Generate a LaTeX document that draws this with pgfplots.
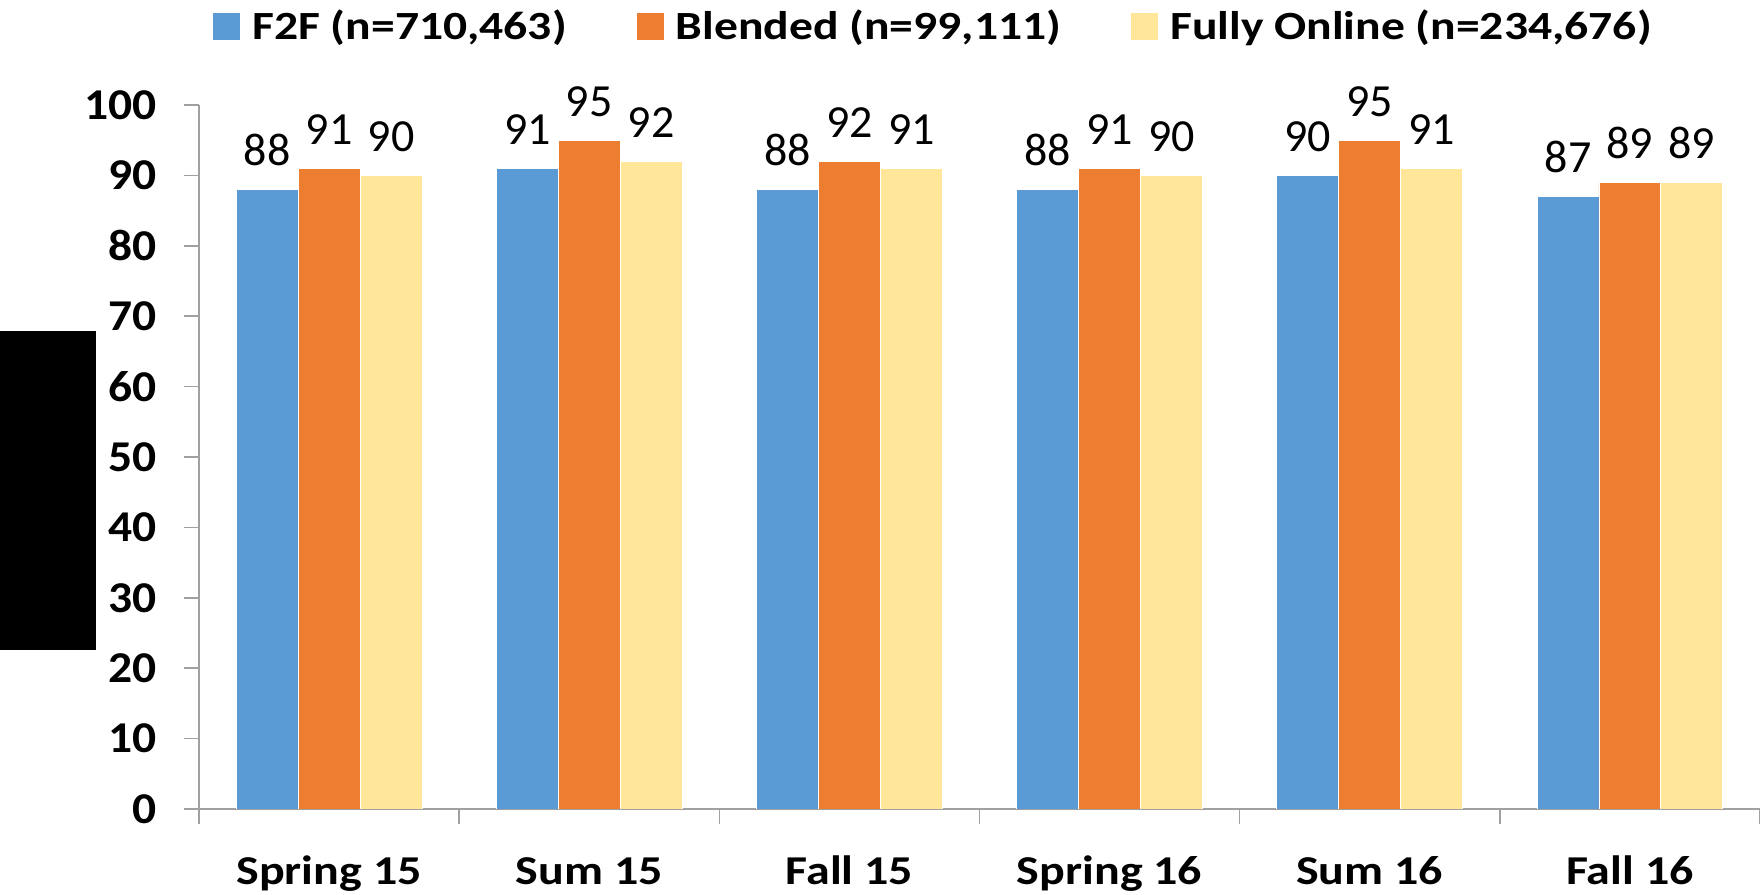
\documentclass[border=0pt]{standalone}
\usepackage{fontspec}
\usepackage{pgfplots}
\pgfplotsset{compat=1.18}
\setmainfont{Carlito}
\newfontfamily\tickfam[FakeStretch=1.08]{Carlito}
\newfontfamily\catfam[FakeStretch=1.17]{Carlito}
\newfontfamily\legfam[FakeStretch=1.19]{Carlito}
\newfontfamily\valfam{Carlito}
\definecolor{cF}{HTML}{5B9BD5}
\definecolor{cB}{HTML}{ED7D31}
\definecolor{cO}{HTML}{FFE699}
\definecolor{axgray}{RGB}{160,160,160}
\begin{document}
\begin{tikzpicture}
\useasboundingbox (-99.5bp,-43bp) rectangle (780.5bp,404.5bp);
\begin{axis}[
  at={(0,0)}, anchor=south west,
  scale only axis, width=780.5bp, height=352bp,
  /pgf/number format/assume math mode=true,
  ymin=0, ymax=100, xmin=-0.5, xmax=5.5,
  ytick={0,10,...,100},
  axis x line*=bottom, axis y line*=left,
  axis line style={axgray, line width=0.75bp},
  tick style={axgray, line width=0.75bp},
  tick align=outside, major tick length=7.5bp,
  xtick={-0.5,0.5,...,5.5}, xticklabels={},
  extra x ticks={0,1,2,3,4,5},
  extra x tick labels={Spring 15,Sum 15,Fall 15,Spring 16,Sum 16,Fall 16},
  extra x tick style={tick style={draw=none}},
  xticklabel style={font=\catfam\bfseries\fontsize{20.5bp}{24bp}\selectfont, anchor=base, yshift=-30bp},
  yticklabel style={font=\tickfam\bfseries\fontsize{22bp}{26bp}\selectfont, xshift=-10bp},
  ybar=0pt, bar width=0.238,
  every axis plot/.append style={draw=white, line width=0.4bp},
  nodes near coords,
  every node near coord/.append style={font=\valfam\fontsize{23bp}{27bp}\selectfont, text=black, anchor=south, inner sep=0pt, yshift=11.5bp},
  legend columns=3,
  legend style={draw=none, fill=none, at={(0.4699,1.112)}, anchor=center,
    font=\legfam\bfseries\fontsize{20bp}{24bp}\selectfont,
    nodes={inner xsep=0pt},
    /tikz/every odd column/.append style={column sep=6bp},
    /tikz/every even column/.append style={column sep=35bp}},
  legend image code/.code={\fill[#1,draw=none] (0bp,-6.75bp) rectangle (13.5bp,6.75bp);},
]
\addplot[fill=cF] coordinates {(0,88) (1,91) (2,88) (3,88) (4,90) (5,87)};
\addplot[fill=cB] coordinates {(0,91) (1,95) (2,92) (3,91) (4,95) (5,89)};
\addplot[fill=cO] coordinates {(0,90) (1,92) (2,91) (3,90) (4,91) (5,89)};
\legend{F2F (n=710{,}463),Blended (n=99{,}111),Fully Online (n=234{,}676)}
\end{axis}
\fill[black] (-99.5bp,79.5bp) rectangle (-51.5bp,239bp);
\end{tikzpicture}
\end{document}
